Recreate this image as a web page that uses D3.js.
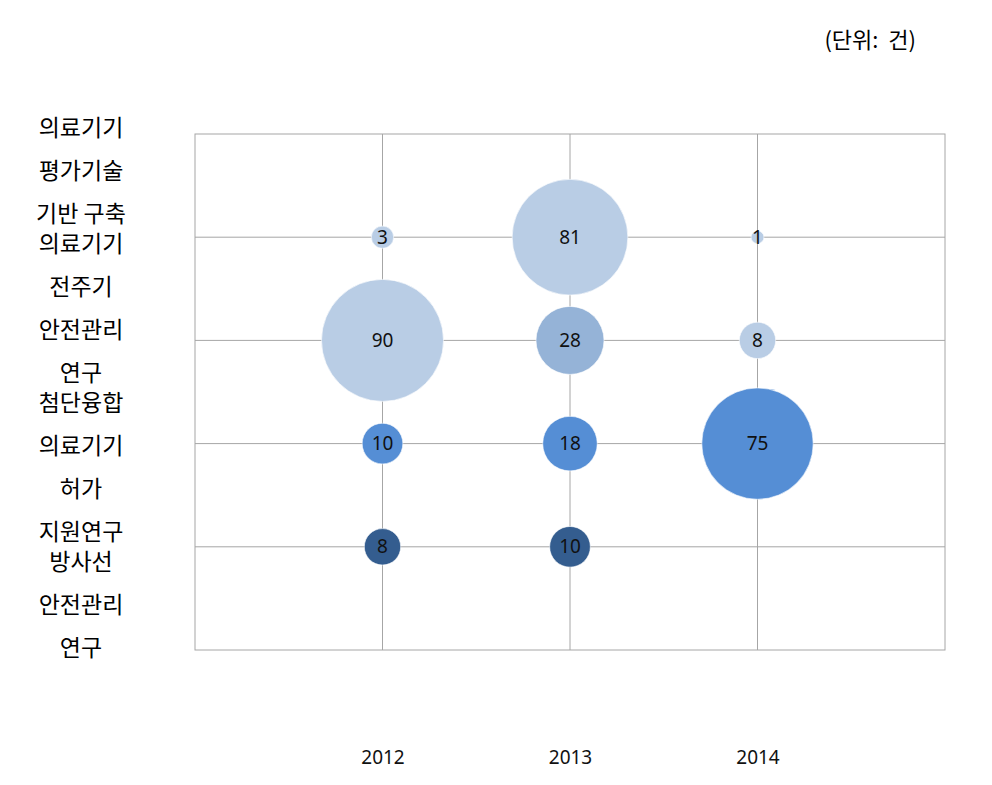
<!DOCTYPE html>
<html><head><meta charset="utf-8">
<script src="https://cdn.jsdelivr.net/npm/d3@7"></script>
<style>body{margin:0;background:#fff}svg{display:block}</style>
</head><body>
<svg id="chart" width="992" height="785"></svg>
<script>
const years = [2012, 2013, 2014];
const rowLabels = [
  ["의료기기", "평가기술", "기반 구축"],
  ["의료기기", "전주기", "안전관리", "연구"],
  ["첨단융합", "의료기기", "허가", "지원연구"],
  ["방사선", "안전관리", "연구"]
];
const rowValues = [
  [3, 81, 1],
  [90, 28, 8],
  [10, 18, 75],
  [8, 10, null]
];
const rowShades = [
  ["light", "light", "light"],
  ["light", "medium", "light"],
  ["blue", "blue", "blue"],
  ["dark", "dark", null]
];
const unitText = "(단위:  건)";

const shadeColor = {light: "#b9cde5", medium: "#95b3d7", blue: "#558ed5", dark: "#345d8f"};

const svg = d3.select("#chart");
const plot = {left: 195, top: 134, right: 945, bottom: 650};

const x = d3.scaleLinear().domain([2011, 2015]).range([plot.left, plot.right]);
const y = d3.scaleLinear().domain([0, 5]).range([plot.bottom, plot.top]);
const r = d3.scaleSqrt().domain([0, 90]).range([0, 61]);
const rowY = i => y(4 - i);

// plot border
svg.append("rect")
  .attr("x", plot.left).attr("y", plot.top)
  .attr("width", plot.right - plot.left).attr("height", plot.bottom - plot.top)
  .attr("fill", "none").attr("stroke", "#a6a6a6").attr("stroke-width", 1);

// grid lines
const g = svg.append("g");
years.forEach(yr => {
  g.append("line").attr("x1", x(yr)).attr("x2", x(yr))
    .attr("y1", plot.top).attr("y2", plot.bottom)
    .attr("stroke", "#a6a6a6").attr("stroke-width", 1);
});
rowLabels.forEach((_, i) => {
  g.append("line").attr("x1", plot.left).attr("x2", plot.right)
    .attr("y1", rowY(i)).attr("y2", rowY(i))
    .attr("stroke", "#a6a6a6").attr("stroke-width", 1);
});

// x-axis tick labels
const xAxis = d3.axisBottom(x).tickValues(years).tickFormat(d3.format("d")).tickSize(0).tickPadding(0);
const ax = svg.append("g").attr("transform", `translate(0,${757})`).call(xAxis);
ax.select(".domain").remove();
ax.selectAll("text").attr("font-family", "'Noto Sans', sans-serif").attr("font-size", 19)
  .attr("fill", "#111").attr("dy", "0.35em").attr("y", 0);

// bubbles
const points = [];
rowValues.forEach((vals, i) => vals.forEach((v, j) => {
  if (v != null) points.push({row: i, year: years[j], value: v, shade: rowShades[i][j]});
}));
const bub = svg.append("g");
bub.selectAll("circle").data(points).join("circle")
  .attr("cx", d => x(d.year)).attr("cy", d => rowY(d.row)).attr("r", d => r(d.value))
  .attr("fill", d => shadeColor[d.shade]).attr("stroke", "#ffffff").attr("stroke-opacity", 0.6).attr("stroke-width", 1);
bub.selectAll("text").data(points).join("text")
  .attr("x", d => x(d.year)).attr("y", d => rowY(d.row)).attr("dy", "0.35em")
  .attr("text-anchor", "middle").attr("font-family", "'Noto Sans', sans-serif").attr("font-size", 19)
  .attr("fill", "#111").text(d => d.value);

// y-axis multi-line labels
const lineStep = 43, groupGap = 30;
let cy = 128;
const yl = svg.append("g").attr("font-family", "'Noto Sans CJK KR', sans-serif").attr("font-size", 23).attr("fill", "#000");
rowLabels.forEach((lines, i) => {
  lines.forEach((ln, k) => {
    yl.append("text").attr("x", 81).attr("y", cy).attr("dy", "0.35em")
      .attr("text-anchor", "middle").style("white-space", "pre").text(ln);
    if (k < lines.length - 1) cy += lineStep;
  });
  cy += groupGap;
});

// unit text
svg.append("text").attr("x", 916).attr("y", 40).attr("dy", "0.35em").attr("text-anchor", "end")
  .attr("font-family", "'Noto Sans CJK KR', sans-serif").attr("font-size", 22).attr("fill", "#000")
  .style("white-space", "pre")
  .text(unitText);
</script>
</body></html>
